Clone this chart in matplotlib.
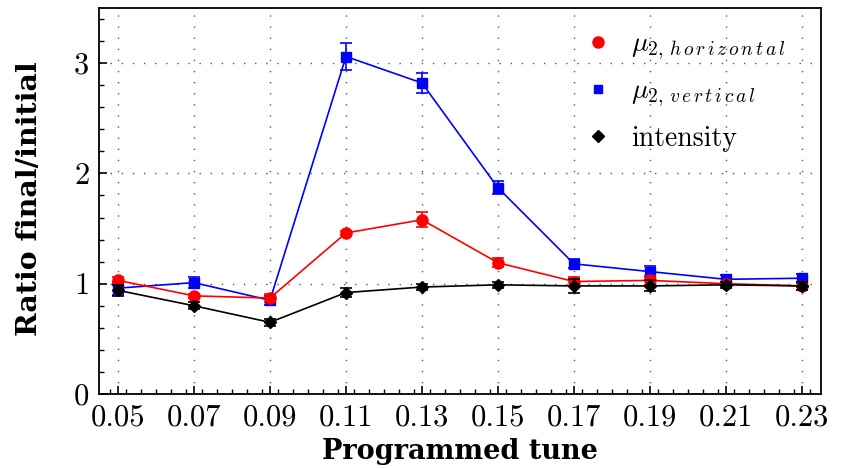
import matplotlib
matplotlib.use("Agg")
import matplotlib.pyplot as plt
from matplotlib.ticker import MultipleLocator, FixedLocator
from matplotlib.lines import Line2D

plt.rcParams['mathtext.fontset'] = 'cm'
plt.rcParams['font.family'] = ['cmr10', 'DejaVu Serif']
plt.rcParams['axes.formatter.use_mathtext'] = True

tune = [0.05, 0.07, 0.09, 0.11, 0.13, 0.15, 0.17, 0.19, 0.21, 0.23]
tick_labels = ["0.05", "0.07", "0.09", "0.11", "0.13", "0.15", "0.17", "0.19", "0.21", "0.23"]

mu_h = [1.03, 0.89, 0.87, 1.46, 1.58, 1.19, 1.02, 1.03, 1.00, 0.98]
mu_h_err = [0.03, 0.02, 0.04, 0.02, 0.07, 0.04, 0.04, 0.04, 0.02, 0.04]

mu_v = [0.96, 1.01, 0.85, 3.06, 2.82, 1.87, 1.18, 1.11, 1.04, 1.05]
mu_v_err = [0.06, 0.05, 0.04, 0.12, 0.09, 0.06, 0.04, 0.05, 0.04, 0.04]

intensity = [0.94, 0.80, 0.65, 0.92, 0.97, 0.99, 0.98, 0.98, 0.99, 0.98]
intensity_err = [0.05, 0.03, 0.03, 0.04, 0.03, 0.03, 0.06, 0.05, 0.03, 0.04]

fig = plt.figure(figsize=(8.44, 4.68), dpi=100)
ax = fig.add_axes([0.1173, 0.1581, 0.9727 - 0.1173, 0.9829 - 0.1581])

ax.errorbar(tune, mu_v, yerr=mu_v_err, color='#0000ff', marker='s', ms=6.5,
            lw=1.2, capsize=4.5, elinewidth=1.2, capthick=1.2, zorder=3)
ax.errorbar(tune, mu_h, yerr=mu_h_err, color='#ff0000', marker='o', ms=8,
            lw=1.2, capsize=4.5, elinewidth=1.2, capthick=1.2, zorder=4)
ax.errorbar(tune, intensity, yerr=intensity_err, color='black', marker='D', ms=6.5,
            lw=1.2, capsize=4.5, elinewidth=1.2, capthick=1.2, zorder=5)

ax.set_xlim(0.045, 0.235)
ax.set_ylim(0, 3.5)
ax.xaxis.set_major_locator(FixedLocator(tune))
ax.set_xticklabels(tick_labels)
ax.xaxis.set_minor_locator(MultipleLocator(0.004))
ax.yaxis.set_major_locator(MultipleLocator(1))
ax.yaxis.set_minor_locator(MultipleLocator(0.2))

ax.tick_params(which='both', direction='in', top=False, right=False, labelsize=22)
ax.tick_params(which='major', length=6, width=1.2)
ax.tick_params(which='minor', length=3.5, width=1.0)
ax.tick_params(axis='x', pad=7)
ax.tick_params(axis='y', pad=7)

for s in ax.spines.values():
    s.set_linewidth(1.3)

ax.grid(True, which='major', linestyle=(0, (1, 7)), color='#555555', linewidth=1.0)

ax.set_xlabel('Programmed tune', family='DejaVu Serif', weight='bold', fontsize=19.5)
ax.set_ylabel('Ratio final/initial', family='DejaVu Serif', weight='bold', fontsize=20.5)
ax.xaxis.set_label_coords(0.5, -0.115)
ax.yaxis.set_label_coords(-0.077, 0.505)

handles = [
    Line2D([], [], color='#ff0000', marker='o', ls='none', ms=8),
    Line2D([], [], color='#0000ff', marker='s', ls='none', ms=6),
    Line2D([], [], color='black', marker='D', ls='none', ms=6),
]
labels = [r'$\mu_{2,\,h\,o\,r\,i\,z\,o\,n\,t\,a\,l}$',
          r'$\mu_{2,\,v\,e\,r\,t\,i\,c\,a\,l}$', 'intensity']
ax.legend(handles, labels, loc='upper left', frameon=False, fontsize=20,
          handlelength=1.0, handletextpad=0.7, labelspacing=0.58,
          borderpad=0, borderaxespad=0, bbox_to_anchor=(0.672, 0.94))

fig.savefig('out.png', dpi=100)
